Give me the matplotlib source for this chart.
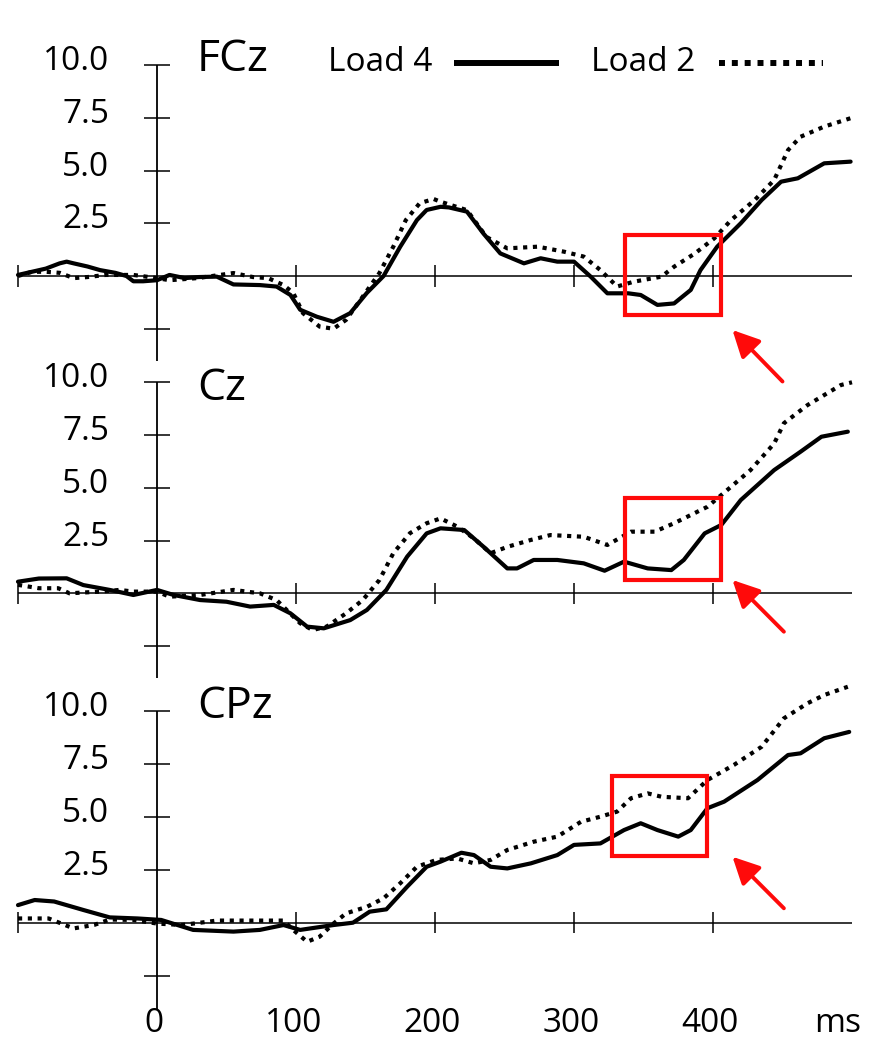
import matplotlib
matplotlib.use("Agg")
import matplotlib.pyplot as plt
from matplotlib.patches import Rectangle

plt.rcParams['font.family'] = ['Open Sans', 'DejaVu Sans']

# ---------------- data (ms, µV) ----------------
channels = ["FCz", "Cz", "CPz"]

fcz_t4 = [-100, -90, -80, -70, -65, -60, -50, -41, -30, -22, -17, -10, 0, 9, 20, 30, 43, 55, 74, 86, 96, 103,
          115, 127, 139, 151, 163, 175, 187, 194, 204, 210, 223, 235, 247, 264, 276, 288, 300, 312, 324, 339,
          348, 360, 372, 384, 391, 403, 420, 435, 449, 461, 480, 499]
fcz_v4 = [0.05, 0.2, 0.35, 0.6, 0.68, 0.6, 0.45, 0.28, 0.15, 0.0, -0.25, -0.25, -0.2, 0.05, -0.1, -0.05, -0.03,
          -0.4, -0.43, -0.5, -0.9, -1.6, -1.93, -2.17, -1.76, -0.8, 0.0, 1.39, 2.65, 3.13, 3.28, 3.25, 3.05, 2.0,
          1.07, 0.6, 0.84, 0.68, 0.68, -0.03, -0.82, -0.82, -0.9, -1.37, -1.3, -0.66, 0.28, 1.39, 2.5, 3.6, 4.47,
          4.63, 5.34, 5.42]
fcz_t2 = [-100, -90, -80, -70, -60, -50, -37, -17, 0, 9, 29, 55, 69, 80, 91, 98, 105, 117, 127, 136, 148, 160,
          170, 179, 189, 199, 204, 223, 237, 252, 274, 293, 307, 319, 331, 343, 363, 372, 387, 401, 413, 430,
          444, 454, 463, 480, 500]
fcz_v2 = [0.0, 0.2, 0.2, 0.15, -0.1, -0.05, 0.05, 0.05, -0.1, -0.2, -0.1, 0.14, -0.05, -0.1, -0.43, -0.8, -1.76,
          -2.4, -2.5, -2.08, -0.98, 0.14, 1.39, 2.65, 3.45, 3.65, 3.52, 3.12, 1.85, 1.31, 1.39, 1.15, 0.92, 0.28,
          -0.5, -0.27, -0.03, 0.44, 1.07, 1.79, 2.65, 3.6, 4.55, 5.97, 6.6, 7.08, 7.5]

cz_t4 = [-100, -85, -65, -53, -34, -17, 0, 12, 31, 50, 67, 84, 96, 108, 120, 139, 151, 165, 180, 194, 204, 221,
         235, 252, 259, 271, 288, 307, 322, 336, 353, 370, 379, 394, 406, 420, 444, 463, 478, 497]
cz_v4 = [0.55, 0.7, 0.71, 0.39, 0.16, -0.08, 0.16, -0.08, -0.32, -0.4, -0.63, -0.55, -0.95, -1.58, -1.66, -1.27,
         -0.79, 0.16, 1.74, 2.84, 3.08, 3.0, 2.2, 1.18, 1.18, 1.58, 1.58, 1.42, 1.07, 1.5, 1.18, 1.1, 1.58, 2.84,
         3.24, 4.42, 5.84, 6.71, 7.42, 7.66]
cz_t2 = [-100, -85, -71, -63, -41, -27, -17, 0, 9, 31, 55, 74, 86, 103, 112, 122, 136, 148, 160, 170, 182, 194,
         204, 216, 228, 240, 252, 269, 283, 307, 324, 341, 358, 372, 396, 413, 427, 444, 451, 468, 492, 500]
cz_v2 = [0.4, 0.24, 0.24, 0.0, 0.08, 0.16, 0.08, 0.08, -0.16, -0.08, 0.16, 0.0, -0.32, -1.42, -1.74, -1.58,
         -0.95, -0.32, 0.63, 1.9, 2.85, 3.32, 3.55, 3.16, 2.6, 1.9, 2.2, 2.53, 2.76, 2.68, 2.29, 2.92, 2.92, 3.32,
         4.1, 5.05, 5.84, 7.1, 8.06, 8.92, 9.87, 10.0]

cpz_t4 = [-100, -88, -74, -53, -34, -14, 3, 26, 55, 74, 91, 103, 127, 141, 153, 165, 180, 194, 204, 219, 228,
          240, 252, 269, 288, 300, 319, 336, 348, 360, 375, 384, 396, 408, 432, 454, 463, 480, 498]
cpz_v4 = [0.83, 1.07, 1.0, 0.6, 0.25, 0.2, 0.13, -0.34, -0.42, -0.34, -0.11, -0.34, -0.11, 0.0, 0.52, 0.63, 1.7,
          2.64, 2.88, 3.3, 3.19, 2.64, 2.56, 2.8, 3.19, 3.67, 3.74, 4.37, 4.69, 4.37, 4.06, 4.37, 5.4, 5.71, 6.73,
          7.91, 7.99, 8.7, 9.0]
cpz_t2 = [-100, -78, -60, -45, -34, -17, 0, 18, 43, 67, 91, 98, 108, 117, 127, 136, 151, 163, 175, 187, 201,
          216, 228, 240, 252, 271, 288, 305, 319, 331, 341, 353, 363, 382, 396, 415, 435, 451, 468, 480, 497]
cpz_v2 = [0.2, 0.2, -0.27, -0.1, 0.15, 0.13, -0.04, -0.11, 0.1, 0.1, 0.1, -0.34, -0.9, -0.66, -0.04, 0.44, 0.75,
          1.15, 1.86, 2.64, 2.96, 3.03, 2.8, 2.96, 3.43, 3.82, 4.06, 4.76, 5.0, 5.24, 5.87, 6.1, 5.94, 5.87, 6.73,
          7.44, 8.3, 9.64, 10.35, 10.74, 11.13]

load4 = [(fcz_t4, fcz_v4), (cz_t4, cz_v4), (cpz_t4, cpz_v4)]
load2 = [(fcz_t2, fcz_v2), (cz_t2, cz_v2), (cpz_t2, cpz_v2)]

ytick_vals = [10.0, 7.5, 5.0, 2.5, -2.5]
ytick_labels = ["10.0", "7.5", "5.0", "2.5", ""]
xtick_vals = [-100, 100, 200, 300, 400]
xlabel_vals = [0, 100, 200, 300, 400]
xlabel_text = ["0", "100", "200", "300", "400"]
legend_labels = ["Load 4", "Load 2"]

# highlighted windows (x0, x1, y0, y1) per panel
boxes = [(337, 406, -1.85, 1.94), (337, 406, 0.63, 4.5), (327, 396, 3.15, 6.92)]
# arrows: (tail_x, tail_y, tip_x, tip_y) per panel
arrows = [(450, -5.0, 414, -2.56), (451, -1.82, 414, 0.63), (451, 0.68, 414, 3.11)]

# ---------------- layout ----------------
W, H = 882, 1062
X0PX, XSC = 157.0, 1.39            # pixel of t=0, px per ms
XMIN, XMAX = -100, 500
panels_px = [  # (top px, bottom px, zero px, px per unit)
    (0, 395, 276.0, 21.1),
    (350, 700, 593.3, 21.1),
    (660, 1062, 922.7, 21.2),
]
title_y = [9.73, 9.16, 9.66]
vaxis_bottom = [-4.05, -4.0, -4.12]

BLACK = "#000000"
RED = "#ff0a0a"
FS = 24

fig = plt.figure(figsize=(W / 100, H / 100), dpi=100)
fig.patch.set_facecolor("white")

xlo = -X0PX / XSC
xhi = (W - X0PX) / XSC

for i, (top, bot, zpx, s) in enumerate(panels_px):
    hi = (zpx - top) / s
    lo = -(bot - zpx) / s
    ax = fig.add_axes([0, 1 - bot / H, 1, (bot - top) / H])
    ax.set_xlim(xlo, xhi)
    ax.set_ylim(lo, hi)
    ax.axis("off")
    ax.patch.set_alpha(0)

    # axes lines
    ax.hlines(0, XMIN, XMAX, color=BLACK, lw=1.1)
    ax.vlines(0, vaxis_bottom[i], 10.0, color=BLACK, lw=1.3)
    tick_half_x = 13 / XSC
    ax.hlines(ytick_vals, -tick_half_x, tick_half_x, color=BLACK, lw=1.1)
    ax.vlines(xtick_vals, -0.5, 0.5, color=BLACK, lw=1.1)

    # tick labels
    for v, lab in zip(ytick_vals, ytick_labels):
        if lab:
            ax.text(-34.5, v - 5 / s, lab, ha="right", va="baseline", fontsize=FS, color=BLACK)

    # curves
    t4, v4 = load4[i]
    t2, v2 = load2[i]
    ax.plot(t2, v2, color=BLACK, lw=3.0, linestyle=(0, (1.0, 1.35)), dash_capstyle="butt",
            solid_joinstyle="round")
    ax.plot(t4, v4, color=BLACK, lw=3.0, solid_capstyle="round", solid_joinstyle="round")

    # channel title
    ax.text(28.8, title_y[i], channels[i], ha="left", va="baseline", fontsize=32, color=BLACK)

    # highlight box
    bx0, bx1, by0, by1 = boxes[i]
    ax.add_patch(Rectangle((bx0, by0), bx1 - bx0, by1 - by0, fill=False, edgecolor=RED, lw=3.0,
                           zorder=5, clip_on=False))
    # arrow
    tx, ty, hx, hy = arrows[i]
    ax.annotate("", xy=(hx, hy), xytext=(tx, ty), annotation_clip=False,
                arrowprops=dict(arrowstyle="-|>,head_length=0.9,head_width=0.45", color=RED, lw=2.8,
                                shrinkA=0, shrinkB=0, mutation_scale=18))

    if i == 0:
        ax.text(123, 9.73, legend_labels[0], ha="left", va="baseline", fontsize=FS, color=BLACK)
        ax.plot([213.4, 289.4], [10.08, 10.08], color=BLACK, lw=4.3, solid_capstyle="butt")
        ax.text(312.2, 9.73, legend_labels[1], ha="left", va="baseline", fontsize=FS, color=BLACK)
        ax.plot([404.3, 479.0], [10.08, 10.08], color=BLACK, lw=4.3, linestyle=(0, (1.0, 1.15)),
                dash_capstyle="butt")

    if i == 2:
        ybase = -(1031.7 - zpx) / s
        for xv, lab in zip(xlabel_vals, xlabel_text):
            ax.text(xv - 2, ybase, lab, ha="center", va="baseline", fontsize=FS, color=BLACK)
        ax.text(489.6, ybase, "ms", ha="center", va="baseline", fontsize=FS, color=BLACK)

fig.savefig("out.png", dpi=100, facecolor="white")
